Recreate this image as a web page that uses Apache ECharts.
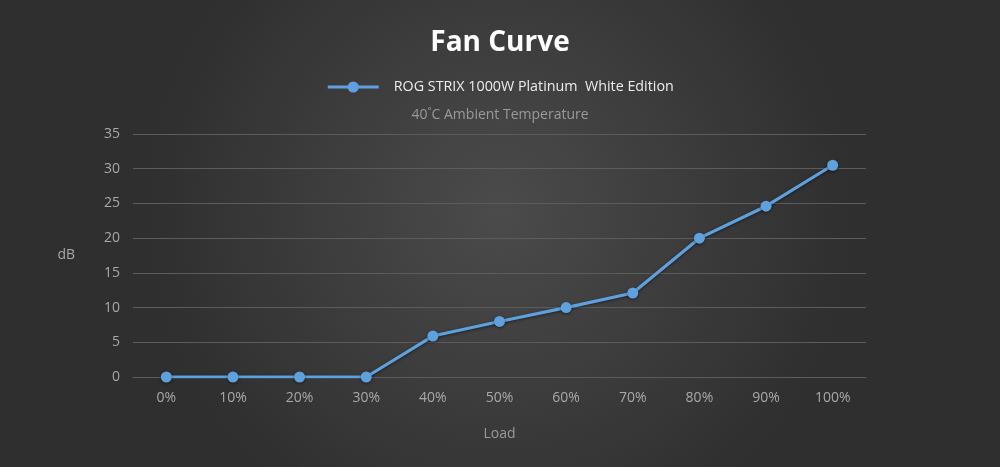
<!DOCTYPE html>
<html>
<head>
<meta charset="utf-8">
<script src="https://cdn.jsdelivr.net/npm/echarts@6/dist/echarts.min.js"></script>
<style>
  html, body { margin: 0; padding: 0; }
  #chart { width: 1000px; height: 467px; }
</style>
</head>
<body>
<div id="chart"></div>
<script>
const loadLabels = ['0%', '10%', '20%', '30%', '40%', '50%', '60%', '70%', '80%', '90%', '100%']
const noiseDb = [0, 0, 0, 0, 5.9, 8.0, 10.0, 12.1, 20.0, 24.6, 30.5]
const seriesName = 'ROG STRIX 1000W Platinum  White Edition'

const font = '"Open Sans", "Noto Sans", sans-serif'
const chart = echarts.init(document.getElementById('chart'))

chart.setOption({
  backgroundColor: {
    type: 'radial', x: 0.5, y: 0.45, r: 0.75,
    colorStops: [
      { offset: 0, color: '#4b4b4b' },
      { offset: 1, color: '#2f2f2f' }
    ]
  },
  title: [
    {
      text: 'Fan Curve', left: 'center', top: 24,
      textStyle: { color: '#ffffff', fontSize: 28, fontWeight: 'bold', fontFamily: font }
    },
    {
      text: '40˚C Ambient Temperature', left: 'center', top: 103,
      textStyle: { color: '#9a9a9a', fontSize: 14, fontWeight: 'normal', fontFamily: font }
    }
  ],
  legend: {
    top: 75, left: 'center',
    itemWidth: 51, itemHeight: 14, itemGap: 10,
    lineStyle: { width: 3 },
    itemStyle: { shadowBlur: 0 },
    textStyle: { color: '#ececec', fontSize: 14.3, fontFamily: font, padding: [0, 0, 0, 10] },
    data: [seriesName]
  },
  grid: { left: 133, right: 134, top: 134, bottom: 90 },
  xAxis: {
    type: 'category',
    data: loadLabels,
    boundaryGap: true,
    name: 'Load', nameLocation: 'middle', nameGap: 50,
    nameTextStyle: { color: '#9a9a9a', fontSize: 14, fontFamily: font },
    axisLine: { show: true, lineStyle: { color: '#5c5c5c', width: 1 } },
    axisTick: { show: false },
    axisLabel: { color: '#a8a8a8', fontSize: 14, fontFamily: font, margin: 14 }
  },
  yAxis: {
    type: 'value',
    min: 0, max: 35, interval: 5,
    name: 'dB', nameLocation: 'middle', nameGap: 58, nameRotate: 0,
    nameTextStyle: { color: '#a8a8a8', fontSize: 14, fontFamily: font },
    axisLine: { show: false },
    axisTick: { show: false },
    axisLabel: { color: '#a8a8a8', fontSize: 14, fontFamily: font, margin: 13 },
    splitLine: { lineStyle: { color: '#5c5c5c', width: 1 } }
  },
  series: [{
    name: seriesName,
    type: 'line',
    data: noiseDb,
    symbol: 'circle',
    symbolSize: 11,
    lineStyle: {
      color: '#5ea1de', width: 3.2,
      shadowColor: 'rgba(0,0,0,0.5)', shadowBlur: 3, shadowOffsetY: 1
    },
    itemStyle: {
      color: '#5ea1de',
      shadowColor: 'rgba(0,0,0,0.5)', shadowBlur: 3, shadowOffsetY: 1
    },
    emphasis: { disabled: true },
    animation: false
  }]
})

window.addEventListener('resize', () => chart.resize())
</script>
</body>
</html>
